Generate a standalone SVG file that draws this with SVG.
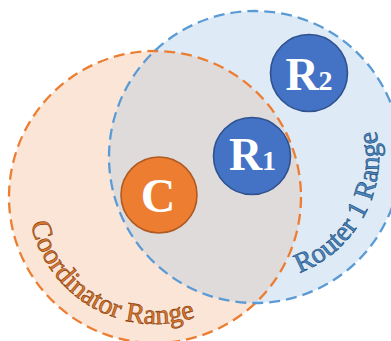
<svg xmlns="http://www.w3.org/2000/svg" width="391" height="341" viewBox="0 0 391 341">
<style>
.range{stroke-width:2.3;stroke-dasharray:11 6;fill:none}
.node-c{fill:#ED7D31;stroke:#AE5A21;stroke-width:1.6}
.node-r{fill:#4472C4;stroke:#2F528F;stroke-width:1.6}
.ntext{font-family:"Liberation Serif","Times New Roman",serif;font-weight:bold;fill:#FFFFFF;text-anchor:middle}
.lbl{font-family:"Liberation Serif","Times New Roman",serif;font-size:28px;stroke-width:0.6}
</style>
<defs>
<clipPath id="clipBlue"><circle cx="255" cy="157" r="146"/></clipPath>
<path id="arcCoord" d="M30.8,223.4 A127,127 0 0 0 252.3,278.6"/>
<path id="arcRouter" d="M299.4,272.8 A124,124 0 0 0 350,77.3"/>
</defs>
<rect width="391" height="341" fill="#FFFFFF"/>
<g id="coordinator-range-fill"><circle cx="155" cy="197" r="146" fill="#FBE5D6"/></g>
<g id="router1-range-fill"><circle cx="255" cy="157" r="146" fill="#DEEBF7"/></g>
<g id="overlap"><circle cx="155" cy="197" r="146" fill="#E0DBDB" clip-path="url(#clipBlue)"/></g>
<g id="coordinator-range">
<circle class="range" cx="155" cy="197" r="146" stroke="#ED7D31"/>
<text class="lbl" fill="#D9772F" stroke="#843C0C"><textPath href="#arcCoord">Coordinator Range</textPath></text>
</g>
<g id="router1-range">
<circle class="range" cx="255" cy="157" r="146" stroke="#5B9BD5"/>
<text class="lbl" fill="#4A86C0" stroke="#1F4E79"><textPath href="#arcRouter">Router 1 Range</textPath></text>
</g>
<g id="connectors"></g>
<g id="C">
<circle class="node-c" cx="159" cy="195" r="38"/>
<text class="ntext" x="158" y="212" font-size="48">C</text>
</g>
<g id="R1">
<circle class="node-r" cx="252" cy="156" r="38.5"/>
<text class="ntext" x="252.5" y="170" font-size="46">R<tspan font-size="28">1</tspan></text>
</g>
<g id="R2">
<circle class="node-r" cx="309" cy="73" r="38.5"/>
<text class="ntext" x="309" y="90" font-size="46">R<tspan font-size="28">2</tspan></text>
</g>
</svg>
